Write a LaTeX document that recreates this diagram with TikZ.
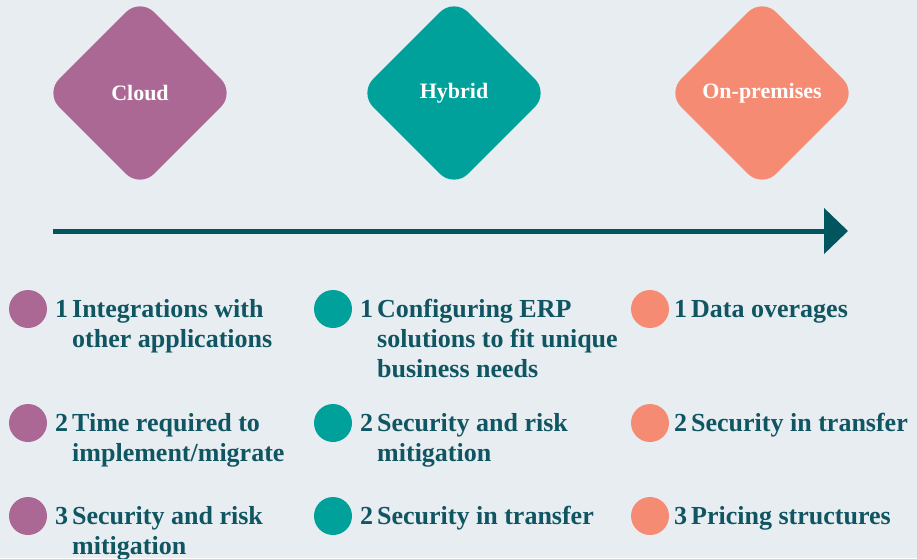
\documentclass[tikz,border=0pt]{standalone}
\usepackage{fontspec}
\setmainfont{Liberation Serif}
\usetikzlibrary{arrows.meta,shapes.geometric}

\definecolor{cloudcol}{HTML}{AB6895}
\definecolor{hybridcol}{HTML}{00A19A}
\definecolor{premcol}{HTML}{F68B73}
\definecolor{inkcol}{HTML}{0F5562}
\definecolor{arrowcol}{HTML}{01555F}
\definecolor{bgcol}{HTML}{E8EDF1}

\newcommand{\issue}[2]{\begin{tabular}[t]{@{}l@{\hspace{4pt}}l@{}}#1 & #2\end{tabular}}

\begin{document}
\begin{tikzpicture}[
  x=1pt,
  y=-1pt,
  phase node/.style={
    shape=diamond,
    aspect=1,
    inner sep=0,
    minimum width=190pt,
    minimum height=190pt,
    rounded corners=20pt,
    fill=#1,
    text=white,
    font=\fontsize{22}{26}\selectfont\bfseries,
  },
  issue dot/.style={circle,inner sep=0,minimum size=38pt,fill=#1},
  issue text/.style={
    anchor=base west,
    inner sep=0,
    text=inkcol,
    font=\fontsize{26}{30}\selectfont\bfseries,
  },
  ]
  \fill[bgcol] (0,0) rectangle (917,558);
  \useasboundingbox (0,0) rectangle (917,558);
  % deployment models
  \node[phase node=cloudcol]  (cloud)  at (140,93) {Cloud};
  \node[phase node=hybridcol] (hybrid) at (454,93) {Hybrid};
  \node[phase node=premcol]   (prem)   at (762,93) {On-premises};
  \coordinate (arrow-start) at (53,231);
  \coordinate (arrow-end)   at (848,231);
  \draw[arrowcol,line width=5pt,-{Triangle[length=24pt,width=45pt]}]
    (arrow-start) -- (arrow-end);
  % cloud issues
  \begin{scope}
    \node[issue dot=cloudcol] (cloud-dot-1) at (28,309) {};
    \node[issue dot=cloudcol] (cloud-dot-2) at (28,423) {};
    \node[issue dot=cloudcol] (cloud-dot-3) at (28,516) {};
    \node[issue text] (cloud-text-1) at (55,317)
      {\issue{1}{Integrations with\\ & other applications}};
    \node[issue text] (cloud-text-2) at (55,431)
      {\issue{2}{Time required to\\ & implement/migrate}};
    \node[issue text] (cloud-text-3) at (55,524)
      {\issue{3}{Security and risk\\ & mitigation}};
  \end{scope}
  % hybrid issues
  \begin{scope}
    \node[issue dot=hybridcol] (hybrid-dot-1) at (333,309) {};
    \node[issue dot=hybridcol] (hybrid-dot-2) at (333,423) {};
    \node[issue dot=hybridcol] (hybrid-dot-3) at (333,516) {};
    \node[issue text] (hybrid-text-1) at (360,317)
      {\issue{1}{Configuring ERP\\ & solutions to fit unique\\ & business needs}};
    \node[issue text] (hybrid-text-2) at (360,431)
      {\issue{2}{Security and risk\\ & mitigation}};
    \node[issue text] (hybrid-text-3) at (360,524)
      {\issue{2}{Security in transfer}};
  \end{scope}
  % on-premises issues
  \begin{scope}
    \node[issue dot=premcol] (prem-dot-1) at (650,309) {};
    \node[issue dot=premcol] (prem-dot-2) at (650,423) {};
    \node[issue dot=premcol] (prem-dot-3) at (650,516) {};
    \node[issue text] (prem-text-1) at (674,317) {\issue{1}{Data overages}};
    \node[issue text] (prem-text-2) at (674,431) {\issue{2}{Security in transfer}};
    \node[issue text] (prem-text-3) at (674,524) {\issue{3}{Pricing structures}};
  \end{scope}
\end{tikzpicture}
\end{document}
